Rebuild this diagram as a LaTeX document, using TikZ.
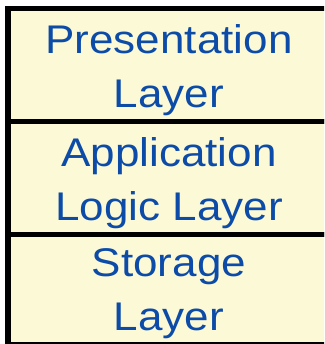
\documentclass[tikz,border=0pt]{standalone}
\usepackage{fontspec}
\setmainfont[FakeStretch=1.1]{Liberation Sans}
\usepackage{tikz}
\usetikzlibrary{calc,positioning}
\definecolor{layerfill}{RGB}{251,249,214}
\definecolor{layerblue}{RGB}{12,76,168}
\tikzstyle{layer}     = [rectangle, draw=black, line width=5.5pt, fill=layerfill, minimum width=322pt, minimum height=113pt, outer sep=0pt, inner sep=0pt]
\tikzstyle{layertext} = [text=layerblue, align=center, font=\fontsize{40}{54}\selectfont, inner sep=0pt]

\begin{document}
\begin{tikzpicture}[node distance=0pt]
		\useasboundingbox (0,0) rectangle (324pt,-344pt);
		\clip (0,0) rectangle (324pt,-344pt);
		\node[layer, anchor=north west] (pres) at (8pt,-8.5pt) {};
		\node[layer, below=of pres] (logic) {};
		\node[layer, below=of logic, minimum height=110pt] (store) {};
		\node[layertext, yshift=-5pt] (presText) at (pres) {Presentation\\Layer};
		\node[layertext, yshift=-5pt] (logicText) at (logic) {Application\\Logic Layer};
		\node[layertext, yshift=-4.5pt] (storeText) at (store) {Storage\\Layer};
	\end{tikzpicture}
\end{document}
